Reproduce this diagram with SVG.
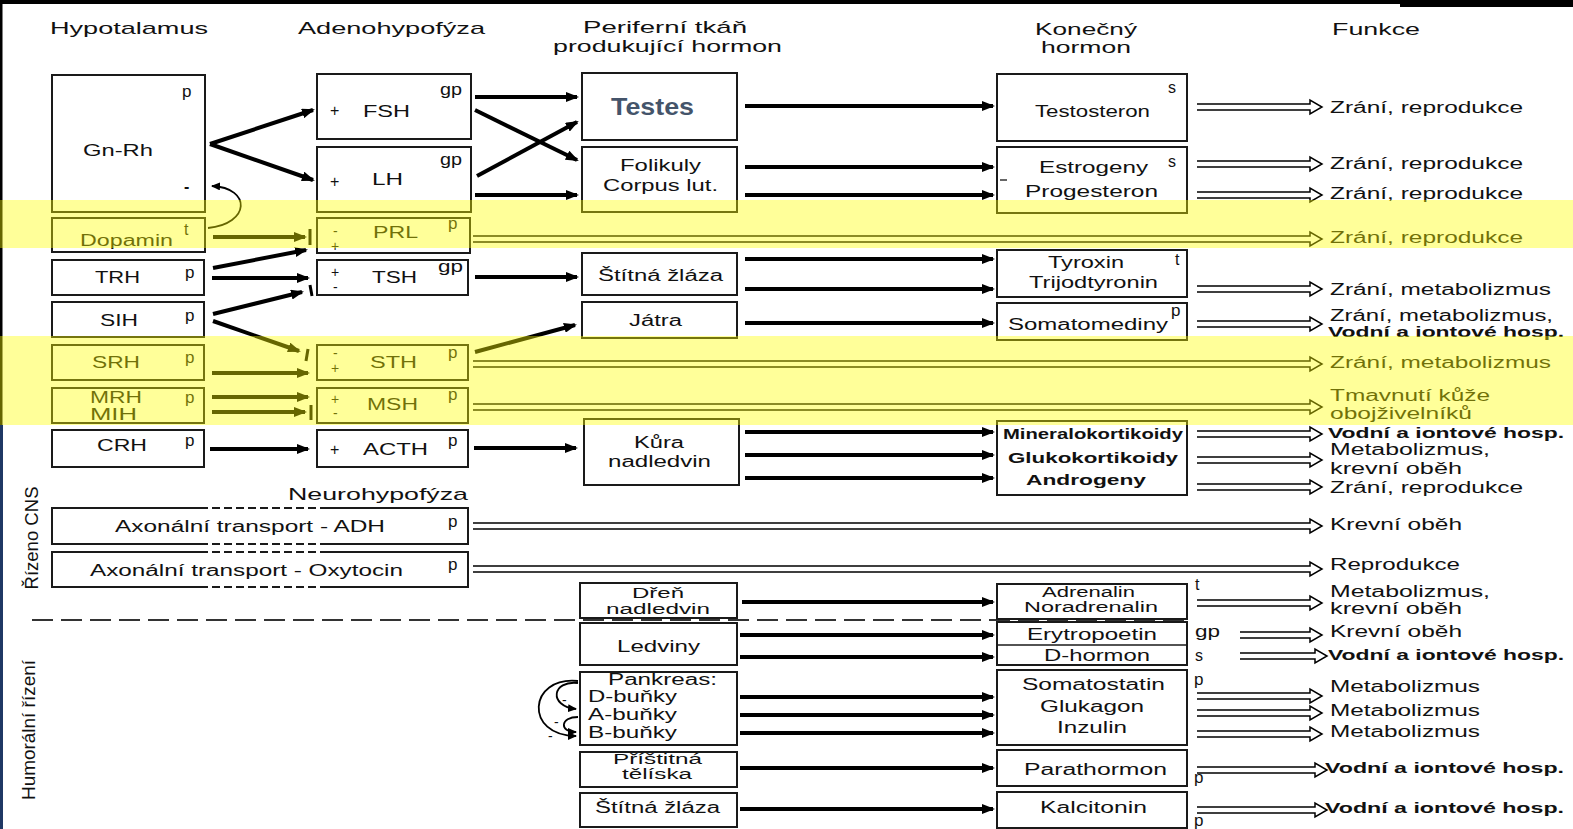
<svg xmlns="http://www.w3.org/2000/svg" width="1573" height="829" viewBox="0 0 1573 829">
<style>
.bx{fill:#fff;stroke:#1a1a1a;stroke-width:2}
text{font-family:"Liberation Sans",Arial,sans-serif;font-size:16px;fill:#111}
.h{font-size:17px}
.b{font-weight:bold;font-size:15px}
.s{font-size:14px}
.n{font-size:14px}
.a{stroke:#000;stroke-width:4;fill:none;marker-end:url(#ah)}
.c{stroke:#000;stroke-width:1.8;fill:none;marker-end:url(#sh)}
.d{fill:none;stroke:#000;stroke-width:1.5}
.i{stroke:#000;stroke-width:3}
.dash{stroke:#333;stroke-width:2;stroke-dasharray:21 8}
</style>
<defs>
<marker id="ah" markerUnits="userSpaceOnUse" markerWidth="13" markerHeight="10" refX="11" refY="5" orient="auto"><path d="M0,0 L13,5 L0,10 z" fill="#000"/></marker>
<marker id="sh" markerUnits="userSpaceOnUse" markerWidth="9" markerHeight="8" refX="8" refY="4" orient="auto"><path d="M0,0 L9,4 L0,8 z" fill="#000"/></marker>
</defs>
<rect width="1573" height="829" fill="#fff"/>
<rect x="0" y="0" width="1573" height="4" fill="#000"/>
<rect x="1400" y="0" width="173" height="7" fill="#000"/>
<rect x="0" y="0" width="2.5" height="425" fill="#000"/>
<rect x="0" y="425" width="3" height="404" fill="#1f3864"/>

<g id="headers">
<text class="h" x="50" y="34" textLength="158" lengthAdjust="spacingAndGlyphs">Hypotalamus</text>
<text class="h" x="298" y="34" textLength="187" lengthAdjust="spacingAndGlyphs">Adenohypofýza</text>
<text class="h" x="583" y="33" textLength="164" lengthAdjust="spacingAndGlyphs">Periferní tkáň</text>
<text class="h" x="553" y="52" textLength="229" lengthAdjust="spacingAndGlyphs">produkující hormon</text>
<text class="h" x="1035" y="35" textLength="102" lengthAdjust="spacingAndGlyphs">Konečný</text>
<text class="h" x="1041" y="53" textLength="90" lengthAdjust="spacingAndGlyphs">hormon</text>
<text class="h" x="1332" y="35" textLength="88" lengthAdjust="spacingAndGlyphs">Funkce</text>
<text class="h" x="288" y="500" textLength="180" lengthAdjust="spacingAndGlyphs">Neurohypofýza</text>
<text transform="translate(38,538) rotate(-90)" text-anchor="middle" style="font-size:19px" textLength="103" lengthAdjust="spacingAndGlyphs">Řízeno CNS</text>
<text transform="translate(35,730) rotate(-90)" text-anchor="middle" style="font-size:19px" textLength="140" lengthAdjust="spacingAndGlyphs">Humorální řízení</text>
</g>

<line class="dash" x1="32" y1="620" x2="1190" y2="620"/>

<!-- Hypothalamus -->
<g id="gnrh"><rect class="bx" x="52" y="75" width="153" height="137"/>
<text x="182" y="97" style="font-size:17px">p</text><text x="83" y="156" textLength="70" lengthAdjust="spacingAndGlyphs">Gn-Rh</text>
<text x="184" y="192" style="font-weight:bold">-</text></g>
<g id="dopamin"><rect class="bx" x="52" y="218" width="153" height="34"/>
<text x="80" y="246" textLength="93" lengthAdjust="spacingAndGlyphs">Dopamin</text><text x="184" y="235">t</text></g>
<g id="trh"><rect class="bx" x="52" y="260" width="152" height="35"/>
<text x="95" y="283" textLength="45" lengthAdjust="spacingAndGlyphs">TRH</text><text x="185" y="278" style="font-size:17px">p</text></g>
<g id="sih"><rect class="bx" x="52" y="302" width="152" height="35"/>
<text x="100" y="326" textLength="38" lengthAdjust="spacingAndGlyphs">SIH</text><text x="185" y="321" style="font-size:17px">p</text></g>
<g id="srh"><rect class="bx" x="52" y="345" width="152" height="35"/>
<text x="92" y="368" textLength="48" lengthAdjust="spacingAndGlyphs">SRH</text><text x="185" y="363" style="font-size:17px">p</text></g>
<g id="mrh"><rect class="bx" x="52" y="388" width="152" height="35"/>
<text x="90" y="403" textLength="52" lengthAdjust="spacingAndGlyphs">MRH</text><text x="90" y="420" textLength="47" lengthAdjust="spacingAndGlyphs">MIH</text><text x="185" y="403" style="font-size:17px">p</text></g>
<g id="crh"><rect class="bx" x="52" y="430" width="152" height="37"/>
<text x="97" y="451" textLength="50" lengthAdjust="spacingAndGlyphs">CRH</text><text x="185" y="446" style="font-size:17px">p</text></g>

<!-- Adenohypophysis -->
<g id="fsh"><rect class="bx" x="317" y="74" width="154" height="65"/>
<text x="330" y="116">+</text><text x="363" y="117" textLength="47" lengthAdjust="spacingAndGlyphs">FSH</text><text x="440" y="95" textLength="22" lengthAdjust="spacingAndGlyphs">gp</text></g>
<g id="lh"><rect class="bx" x="317" y="147" width="154" height="65"/>
<text x="330" y="187">+</text><text x="372" y="185" textLength="31" lengthAdjust="spacingAndGlyphs">LH</text><text x="440" y="165" textLength="22" lengthAdjust="spacingAndGlyphs">gp</text></g>
<g id="prl"><rect class="bx" x="317" y="218" width="153" height="35"/>
<text class="s" x="333" y="236">-</text><text class="s" x="331" y="251">+</text><text x="373" y="238" textLength="45" lengthAdjust="spacingAndGlyphs">PRL</text><text x="448" y="229" style="font-size:17px">p</text></g>
<g id="tsh"><rect class="bx" x="317" y="260" width="151" height="35"/>
<text class="s" x="331" y="277">+</text><text class="s" x="333" y="292">-</text><text x="372" y="283" textLength="45" lengthAdjust="spacingAndGlyphs">TSH</text><text x="438" y="272" textLength="25" lengthAdjust="spacingAndGlyphs">gp</text></g>
<g id="sth"><rect class="bx" x="317" y="345" width="151" height="35"/>
<text class="s" x="333" y="358">-</text><text class="s" x="331" y="373">+</text><text x="370" y="368" textLength="47" lengthAdjust="spacingAndGlyphs">STH</text><text x="448" y="358" style="font-size:17px">p</text></g>
<g id="msh"><rect class="bx" x="317" y="388" width="151" height="35"/>
<text class="s" x="331" y="404">+</text><text class="s" x="333" y="418">-</text><text x="367" y="410" textLength="51" lengthAdjust="spacingAndGlyphs">MSH</text><text x="448" y="400" style="font-size:17px">p</text></g>
<g id="acth"><rect class="bx" x="317" y="430" width="151" height="37"/>
<text x="330" y="455">+</text><text x="363" y="455" textLength="65" lengthAdjust="spacingAndGlyphs">ACTH</text><text x="448" y="446" style="font-size:17px">p</text></g>
<g id="adh"><path d="M52 508H468V544H52Z" fill="#fff"/>
<path d="M200 508H52V544H200M320 508H468V544H320" fill="none" stroke="#1a1a1a" stroke-width="2"/>
<path d="M200 508H320M200 544H320" fill="none" stroke="#1a1a1a" stroke-width="2" stroke-dasharray="8 4"/>
<text x="115" y="532" textLength="270" lengthAdjust="spacingAndGlyphs">Axonální transport - ADH</text><text x="448" y="527" style="font-size:17px">p</text></g>
<g id="oxytocin"><path d="M52 552H468V587H52Z" fill="#fff"/>
<path d="M200 552H52V587H200M320 552H468V587H320" fill="none" stroke="#1a1a1a" stroke-width="2"/>
<path d="M200 552H320M200 587H320" fill="none" stroke="#1a1a1a" stroke-width="2" stroke-dasharray="8 4"/>
<text x="90" y="576" textLength="313" lengthAdjust="spacingAndGlyphs">Axonální transport - Oxytocin</text><text x="448" y="570" style="font-size:17px">p</text></g>

<!-- Peripheral -->
<g id="testes"><rect class="bx" x="582" y="73" width="155" height="67"/>
<text x="611" y="115" style="font-weight:bold;font-size:24px;fill:#44546a" textLength="83" lengthAdjust="spacingAndGlyphs">Testes</text></g>
<g id="folikuly"><rect class="bx" x="582" y="147" width="155" height="65"/>
<text x="620" y="171" textLength="81" lengthAdjust="spacingAndGlyphs">Folikuly</text><text x="603" y="191" textLength="115" lengthAdjust="spacingAndGlyphs">Corpus lut.</text></g>
<g id="stitna1"><rect class="bx" x="582" y="253" width="155" height="42"/>
<text x="598" y="281" textLength="125" lengthAdjust="spacingAndGlyphs">Štítná žláza</text></g>
<g id="jatra"><rect class="bx" x="582" y="302" width="155" height="36"/>
<text x="629" y="326" textLength="53" lengthAdjust="spacingAndGlyphs">Játra</text></g>
<g id="kura"><rect class="bx" x="584" y="419" width="155" height="66"/>
<text x="634" y="448" textLength="50" lengthAdjust="spacingAndGlyphs">Kůra</text><text x="608" y="467" textLength="103" lengthAdjust="spacingAndGlyphs">nadledvin</text></g>
<g id="dren"><rect class="bx" x="580" y="583" width="157" height="35"/>
<text class="n" x="632" y="598" textLength="52" lengthAdjust="spacingAndGlyphs">Dřeň</text><text class="n" x="606" y="614" textLength="104" lengthAdjust="spacingAndGlyphs">nadledvin</text></g>
<g id="ledviny"><rect class="bx" x="580" y="623" width="157" height="42"/>
<text x="617" y="652" textLength="83" lengthAdjust="spacingAndGlyphs">Ledviny</text></g>
<g id="pankreas"><rect class="bx" x="580" y="672" width="157" height="73"/>
<text x="608" y="685" textLength="109" lengthAdjust="spacingAndGlyphs">Pankreas:</text>
<text x="588" y="702" textLength="89" lengthAdjust="spacingAndGlyphs">D-buňky</text>
<text x="588" y="720" textLength="89" lengthAdjust="spacingAndGlyphs">A-buňky</text>
<text x="588" y="738" textLength="89" lengthAdjust="spacingAndGlyphs">B-buňky</text></g>
<g id="pristitna"><rect class="bx" x="580" y="752" width="157" height="35"/>
<text class="n" x="613" y="764" textLength="89" lengthAdjust="spacingAndGlyphs">Příštitná</text><text class="n" x="622" y="779" textLength="70" lengthAdjust="spacingAndGlyphs">tělíska</text></g>
<g id="stitna2"><rect class="bx" x="580" y="793" width="157" height="34"/>
<text x="595" y="813" textLength="125" lengthAdjust="spacingAndGlyphs">Štítná žláza</text></g>

<!-- Final hormones -->
<g id="testosteron"><rect class="bx" x="997" y="74" width="190" height="67"/>
<text x="1168" y="93">s</text><text x="1035" y="117" textLength="115" lengthAdjust="spacingAndGlyphs">Testosteron</text></g>
<g id="estrogeny"><rect class="bx" x="997" y="147" width="190" height="66"/>
<text x="1039" y="173" textLength="109" lengthAdjust="spacingAndGlyphs">Estrogeny</text><text x="1168" y="167">s</text>
<line x1="1000" y1="180" x2="1007" y2="180" stroke="#333" stroke-width="1.5"/>
<text x="1025" y="197" textLength="133" lengthAdjust="spacingAndGlyphs">Progesteron</text></g>
<g id="tyroxin"><rect class="bx" x="997" y="250" width="190" height="47"/>
<text x="1048" y="268" textLength="76" lengthAdjust="spacingAndGlyphs">Tyroxin</text><text x="1175" y="265">t</text>
<text x="1029" y="288" textLength="129" lengthAdjust="spacingAndGlyphs">Trijodtyronin</text></g>
<g id="somatomediny"><rect class="bx" x="997" y="303" width="190" height="37"/>
<text x="1008" y="330" textLength="160" lengthAdjust="spacingAndGlyphs">Somatomediny</text><text x="1171" y="316" style="font-size:17px">p</text></g>
<g id="kortikoidy"><rect class="bx" x="997" y="421" width="190" height="74"/>
<text class="b" x="1003" y="439" textLength="180" lengthAdjust="spacingAndGlyphs">Mineralokortikoidy</text>
<text class="b" x="1008" y="463" textLength="170" lengthAdjust="spacingAndGlyphs">Glukokortikoidy</text>
<text class="b" x="1026" y="485" textLength="120" lengthAdjust="spacingAndGlyphs">Androgeny</text></g>
<g id="adrenalin"><rect class="bx" x="997" y="584" width="190" height="35"/>
<text class="n" x="1042" y="597" textLength="93" lengthAdjust="spacingAndGlyphs">Adrenalin</text>
<text class="n" x="1024" y="612" textLength="134" lengthAdjust="spacingAndGlyphs">Noradrenalin</text><text x="1195" y="590">t</text></g>
<g id="erytropoetin"><rect class="bx" x="997" y="622" width="190" height="43"/><line x1="997" y1="645" x2="1187" y2="645" stroke="#1a1a1a" stroke-width="1.5"/>
<text x="1027" y="640" textLength="130" lengthAdjust="spacingAndGlyphs">Erytropoetin</text><text x="1044" y="661" textLength="106" lengthAdjust="spacingAndGlyphs">D-hormon</text>
<text x="1195" y="637" textLength="25" lengthAdjust="spacingAndGlyphs">gp</text><text x="1195" y="661">s</text></g>
<g id="somatostatin"><rect class="bx" x="997" y="670" width="190" height="75"/>
<text x="1022" y="690" textLength="143" lengthAdjust="spacingAndGlyphs">Somatostatin</text>
<text x="1040" y="712" textLength="104" lengthAdjust="spacingAndGlyphs">Glukagon</text>
<text x="1057" y="733" textLength="70" lengthAdjust="spacingAndGlyphs">Inzulin</text><text x="1194" y="685" style="font-size:17px">p</text></g>
<g id="parathormon"><rect class="bx" x="997" y="750" width="190" height="36"/>
<text x="1024" y="775" textLength="143" lengthAdjust="spacingAndGlyphs">Parathormon</text><text x="1194" y="783" style="font-size:17px">p</text></g>
<g id="kalcitonin"><rect class="bx" x="997" y="792" width="190" height="36"/>
<text x="1040" y="813" textLength="107" lengthAdjust="spacingAndGlyphs">Kalcitonin</text><text x="1194" y="826" style="font-size:17px">p</text></g>

<!-- Functions -->
<g id="funkce">
<text x="1330" y="113" textLength="193" lengthAdjust="spacingAndGlyphs">Zrání, reprodukce</text>
<text x="1330" y="169" textLength="193" lengthAdjust="spacingAndGlyphs">Zrání, reprodukce</text>
<text x="1330" y="199" textLength="193" lengthAdjust="spacingAndGlyphs">Zrání, reprodukce</text>
<text x="1330" y="243" textLength="193" lengthAdjust="spacingAndGlyphs">Zrání, reprodukce</text>
<text x="1330" y="295" textLength="221" lengthAdjust="spacingAndGlyphs">Zrání, metabolizmus</text>
<text x="1330" y="321" textLength="223" lengthAdjust="spacingAndGlyphs">Zrání, metabolizmus,</text>
<text class="b" x="1328" y="337" textLength="236" lengthAdjust="spacingAndGlyphs">Vodní a iontové hosp.</text>
<text x="1330" y="368" textLength="221" lengthAdjust="spacingAndGlyphs">Zrání, metabolizmus</text>
<text x="1330" y="401" textLength="160" lengthAdjust="spacingAndGlyphs">Tmavnutí kůže</text>
<text x="1330" y="419" textLength="142" lengthAdjust="spacingAndGlyphs">obojživelníků</text>
<text class="b" x="1328" y="438" textLength="236" lengthAdjust="spacingAndGlyphs">Vodní a iontové hosp.</text>
<text x="1330" y="455" textLength="160" lengthAdjust="spacingAndGlyphs">Metabolizmus,</text>
<text x="1330" y="474" textLength="132" lengthAdjust="spacingAndGlyphs">krevní oběh</text>
<text x="1330" y="493" textLength="193" lengthAdjust="spacingAndGlyphs">Zrání, reprodukce</text>
<text x="1330" y="530" textLength="132" lengthAdjust="spacingAndGlyphs">Krevní oběh</text>
<text x="1330" y="570" textLength="130" lengthAdjust="spacingAndGlyphs">Reprodukce</text>
<text x="1330" y="597" textLength="160" lengthAdjust="spacingAndGlyphs">Metabolizmus,</text>
<text x="1330" y="614" textLength="132" lengthAdjust="spacingAndGlyphs">krevní oběh</text>
<text x="1330" y="637" textLength="132" lengthAdjust="spacingAndGlyphs">Krevní oběh</text>
<text class="b" x="1328" y="660" textLength="236" lengthAdjust="spacingAndGlyphs">Vodní a iontové hosp.</text>
<text x="1330" y="692" textLength="150" lengthAdjust="spacingAndGlyphs">Metabolizmus</text>
<text x="1330" y="716" textLength="150" lengthAdjust="spacingAndGlyphs">Metabolizmus</text>
<text x="1330" y="737" textLength="150" lengthAdjust="spacingAndGlyphs">Metabolizmus</text>
<text class="b" x="1325" y="773" textLength="239" lengthAdjust="spacingAndGlyphs">Vodní a iontové hosp.</text>
<text class="b" x="1325" y="813" textLength="239" lengthAdjust="spacingAndGlyphs">Vodní a iontové hosp.</text>
</g>

<g id="connectors">
<line class="a" x1="210" y1="144" x2="313" y2="110"/>
<line class="a" x1="210" y1="144" x2="313" y2="180"/>
<line class="a" x1="213" y1="237" x2="305" y2="237"/><line class="i" x1="310" y1="229" x2="310" y2="245"/>
<line class="a" x1="213" y1="268" x2="306" y2="250"/>
<line class="a" x1="212" y1="278" x2="308" y2="278"/>
<line class="a" x1="213" y1="314" x2="302" y2="292"/><line class="i" x1="310" y1="285" x2="312" y2="296"/>
<line class="a" x1="213" y1="321" x2="299" y2="351"/><line class="i" x1="308" y1="349" x2="306" y2="361"/>
<line class="a" x1="212" y1="373" x2="308" y2="373"/>
<line class="a" x1="212" y1="397" x2="308" y2="397"/>
<line class="a" x1="212" y1="412" x2="305" y2="412"/><line class="i" x1="311" y1="405" x2="311" y2="420"/>
<line class="a" x1="210" y1="449" x2="308" y2="449"/>
<path class="c" d="M208 228C250 224 252 188 212 186"/>
<line class="a" x1="475" y1="97" x2="577" y2="97"/>
<line class="a" x1="475" y1="110" x2="577" y2="160"/>
<line class="a" x1="477" y1="176" x2="577" y2="122"/>
<line class="a" x1="475" y1="195" x2="577" y2="195"/>
<line class="a" x1="475" y1="277" x2="577" y2="277"/>
<line class="a" x1="475" y1="352" x2="575" y2="325"/>
<line class="a" x1="474" y1="448" x2="576" y2="448"/>
<line class="a" x1="745" y1="106" x2="993" y2="106"/>
<line class="a" x1="745" y1="167" x2="993" y2="167"/>
<line class="a" x1="745" y1="195" x2="993" y2="195"/>
<line class="a" x1="745" y1="259" x2="993" y2="259"/>
<line class="a" x1="745" y1="289" x2="993" y2="289"/>
<line class="a" x1="745" y1="323" x2="993" y2="323"/>
<line class="a" x1="745" y1="432" x2="993" y2="432"/>
<line class="a" x1="745" y1="455" x2="993" y2="455"/>
<line class="a" x1="745" y1="478" x2="993" y2="478"/>
<line class="a" x1="742" y1="602" x2="993" y2="602"/>
<line class="a" x1="740" y1="635" x2="993" y2="635"/>
<line class="a" x1="740" y1="657" x2="993" y2="657"/>
<line class="a" x1="740" y1="697" x2="993" y2="697"/>
<line class="a" x1="740" y1="715" x2="993" y2="715"/>
<line class="a" x1="740" y1="733" x2="993" y2="733"/>
<line class="a" x1="740" y1="768" x2="993" y2="768"/>
<line class="a" x1="740" y1="809" x2="993" y2="809"/>
<path class="c" d="M578 683C552 680 548 706 576 709"/>
<path class="c" d="M578 717C560 717 559 732 576 732"/>
<path class="c" d="M578 681C528 676 524 736 576 736"/>
<text x="562" y="705" class="s">-</text><text x="554" y="727" class="s">-</text><text x="548" y="741" class="s">-</text>
<path class="d" d="M473 236H1310V232L1322 239L1310 246V242H473"/>
<path class="d" d="M473 361H1310V357L1322 364L1310 371V367H473"/>
<path class="d" d="M473 404H1310V400L1322 407L1310 414V410H473"/>
<path class="d" d="M473 523H1310V519L1322 526L1310 533V529H473"/>
<path class="d" d="M473 566H1310V562L1322 569L1310 576V572H473"/>
<path class="d" d="M1197 104H1310V100L1322 107L1310 114V110H1197"/>
<path class="d" d="M1197 161H1310V157L1322 164L1310 171V167H1197"/>
<path class="d" d="M1197 192H1310V188L1322 195L1310 202V198H1197"/>
<path class="d" d="M1197 286H1310V282L1322 289L1310 296V292H1197"/>
<path class="d" d="M1197 321H1310V317L1322 324L1310 331V327H1197"/>
<path class="d" d="M1197 431H1310V427L1322 434L1310 441V437H1197"/>
<path class="d" d="M1197 457H1310V453L1322 460L1310 467V463H1197"/>
<path class="d" d="M1197 484H1310V480L1322 487L1310 494V490H1197"/>
<path class="d" d="M1197 600H1310V596L1322 603L1310 610V606H1197"/>
<path class="d" d="M1240 632H1310V628L1322 635L1310 642V638H1240"/>
<path class="d" d="M1240 653H1315V649L1327 656L1315 663V659H1240"/>
<path class="d" d="M1197 693H1310V689L1322 696L1310 703V699H1197"/>
<path class="d" d="M1197 710H1310V706L1322 713L1310 720V716H1197"/>
<path class="d" d="M1197 731H1310V727L1322 734L1310 741V737H1197"/>
<path class="d" d="M1197 767H1315V763L1327 770L1315 777V773H1197"/>
<path class="d" d="M1197 807H1315V803L1327 810L1315 817V813H1197"/>
</g>

<g id="highlights">
<rect x="0" y="200" width="1573" height="48" fill="#ffff00" fill-opacity="0.4"/>
<rect x="0" y="336" width="1573" height="89" fill="#ffff00" fill-opacity="0.4"/>
</g>
</svg>
